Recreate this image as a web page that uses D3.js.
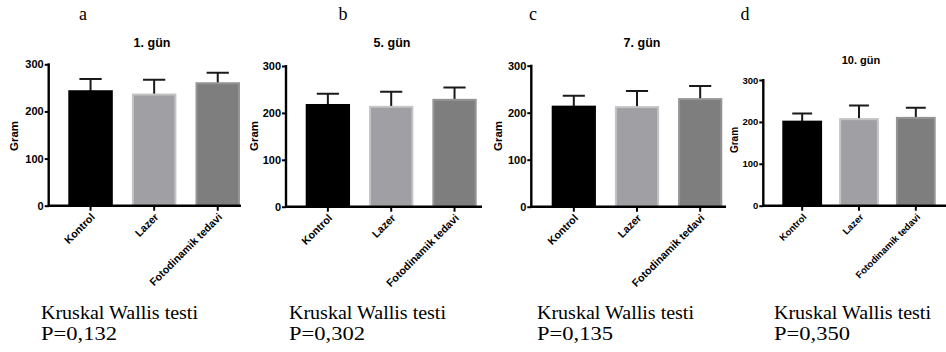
<!DOCTYPE html>
<html>
<head>
<meta charset="utf-8">
<script src="https://cdn.jsdelivr.net/npm/d3@7"></script>
<style>
  body { margin: 0; background: #fff; }
  svg { display: block; }
</style>
</head>
<body>
<div id="app"></div>
<script>
`use strict`;

// values (Gram, mean and upper error)
const categories = [`Kontrol`, `Lazer`, `Fotodinamik tedavi`];
const days = [`1. gün`, `5. gün`, `7. gün`, `10. gün`];
const letters = [`a`, `b`, `c`, `d`];
const pValues = [`P=0,132`, `P=0,302`, `P=0,135`, `P=0,350`];
const testName = `Kruskal Wallis testi`;
const yTicks = [0, 100, 200, 300];

const day1Mean = [245, 238, 262];
const day1Err = [24, 29, 20];
const day5Mean = [219, 215, 230];
const day5Err = [22, 30, 24];
const day7Mean = [215, 214, 231];
const day7Err = [21, 32, 26];
const day10Mean = [203, 209, 212];
const day10Err = [17, 30, 22];

const Means = [day1Mean, day5Mean, day7Mean, day10Mean];
const Errs = [day1Err, day5Err, day7Err, day10Err];

// panel frames
const Panels = [
  {ax: 48.7, top: 64.3, base: 205.7, b0: 68.3, b1: 240, end: 241, title: [152, 47, 12.5], letter: 83, gram: [14, 136], tick: 11, cat: 10.7, text: 41},
  {ax: 286, top: 66, base: 206.7, b0: 305.7, b1: 476.7, end: 482, title: [392, 47, 12.5], letter: 343, gram: [254, 136], tick: 11, cat: 10.7, text: 289},
  {ax: 531.3, top: 65.7, base: 206.7, b0: 551.7, b1: 722.3, end: 726, title: [642, 47, 12.5], letter: 533, gram: [498, 136], tick: 11, cat: 10.7, text: 537},
  {ax: 763.3, top: 80, base: 205.7, b0: 782.3, b1: 935.7, end: 946, title: [861, 64, 11], letter: 745, gram: [734, 140], tick: 9.5, cat: 9.5, text: 774}
];

const Fill = [`#000000`, `#a0a0a4`, `#7e7e7e`];
const Edge = [`#000000`, `#c4c4c6`, `#959595`];

const SVG = d3.select(`#app`).append(`svg`).attr(`width`, 946).attr(`height`, 352);

Panels.forEach((P, i) => {

  let G = SVG.append(`g`);

  let x = d3.scaleBand().domain(categories).range([P.b0, P.b1]).paddingInner(0.3).paddingOuter(0);
  let y = d3.scaleLinear().domain([0, 300]).range([P.base, P.top]);

  let Rows = categories.map((c, k) => ({c: c, k: k, m: Means[i][k], e: Errs[i][k]}));

  // error bars first so the bar covers the lower part
  let half = x.bandwidth() / 4;

  G.selectAll(`.err`).data(Rows).enter().append(`path`)
    .attr(`d`, R => {
      let cx = x(R.c) + x.bandwidth() / 2;
      return `M${cx},${y(R.m) + 4}V${y(R.m + R.e)}M${cx - half},${y(R.m + R.e)}H${cx + half}`;
    })
    .attr(`fill`, `none`).attr(`stroke`, `#1a1a1a`).attr(`stroke-width`, 2);

  G.selectAll(`.bar`).data(Rows).enter().append(`rect`)
    .attr(`x`, R => x(R.c) + 1)
    .attr(`y`, R => y(R.m) + 1)
    .attr(`width`, x.bandwidth() - 2)
    .attr(`height`, R => y(0) - y(R.m) - 1)
    .attr(`fill`, R => Fill[R.k])
    .attr(`stroke`, R => Edge[R.k])
    .attr(`stroke-width`, 2);

  // y axis
  let yAxis = G.append(`g`).attr(`transform`, `translate(${P.ax},0)`)
    .call(d3.axisLeft(y).tickValues(yTicks).tickSize(4).tickPadding(1).tickSizeOuter(0));
  yAxis.select(`.domain`).attr(`stroke`, `#000`).attr(`stroke-width`, 2.4).attr(`d`, `M0,${P.base}V${P.top - 1}`);
  yAxis.selectAll(`.tick line`).attr(`stroke-width`, 2);
  yAxis.selectAll(`.tick text`).attr(`font-family`, `Liberation Sans, Arial, sans-serif`)
    .attr(`font-weight`, `bold`).attr(`font-size`, P.tick + `px`).attr(`fill`, `#000`);

  // x axis
  let xAxis = G.append(`g`).attr(`transform`, `translate(0,${P.base})`)
    .call(d3.axisBottom(x).tickSize(5).tickSizeOuter(0));
  xAxis.select(`.domain`).attr(`stroke`, `#000`).attr(`stroke-width`, 2.4).attr(`d`, `M${P.ax - 1},0H${P.end}`);
  xAxis.selectAll(`.tick line`).attr(`stroke-width`, 2);
  xAxis.selectAll(`.tick text`)
    .attr(`font-family`, `Liberation Sans, Arial, sans-serif`)
    .attr(`font-weight`, `bold`).attr(`font-size`, P.cat + `px`).attr(`fill`, `#000`)
    .attr(`text-anchor`, `end`).attr(`dy`, null).attr(`y`, 0)
    .attr(`transform`, `translate(5,12) rotate(-45)`);

  // title, letter, y label
  G.append(`text`).attr(`x`, P.title[0]).attr(`y`, P.title[1]).attr(`text-anchor`, `middle`)
    .attr(`font-family`, `Liberation Sans, Arial, sans-serif`).attr(`font-weight`, `bold`)
    .attr(`font-size`, P.title[2] + `px`).text(days[i]);

  G.append(`text`).attr(`x`, P.letter).attr(`y`, 20).attr(`text-anchor`, `middle`)
    .attr(`font-family`, `Liberation Serif, Times New Roman, serif`).attr(`font-size`, `18px`).text(letters[i]);

  G.append(`text`).attr(`transform`, `translate(${P.gram[0]},${P.gram[1]}) rotate(-90)`)
    .attr(`text-anchor`, `middle`).attr(`dy`, `0.35em`)
    .attr(`font-family`, `Liberation Sans, Arial, sans-serif`).attr(`font-weight`, `bold`)
    .attr(`font-size`, (P.tick + 0.5) + `px`).text(`Gram`);

  // test result
  G.append(`text`).attr(`x`, P.text).attr(`y`, 319)
    .attr(`font-family`, `Liberation Serif, Times New Roman, serif`).attr(`font-size`, `19.5px`)
    .attr(`textLength`, 157).attr(`lengthAdjust`, `spacingAndGlyphs`)
    .text(testName);
  G.append(`text`).attr(`x`, P.text).attr(`y`, 340)
    .attr(`font-family`, `Liberation Serif, Times New Roman, serif`).attr(`font-size`, `19.5px`)
    .attr(`textLength`, 76).attr(`lengthAdjust`, `spacingAndGlyphs`)
    .text(pValues[i]);
});
</script>
</body>
</html>
